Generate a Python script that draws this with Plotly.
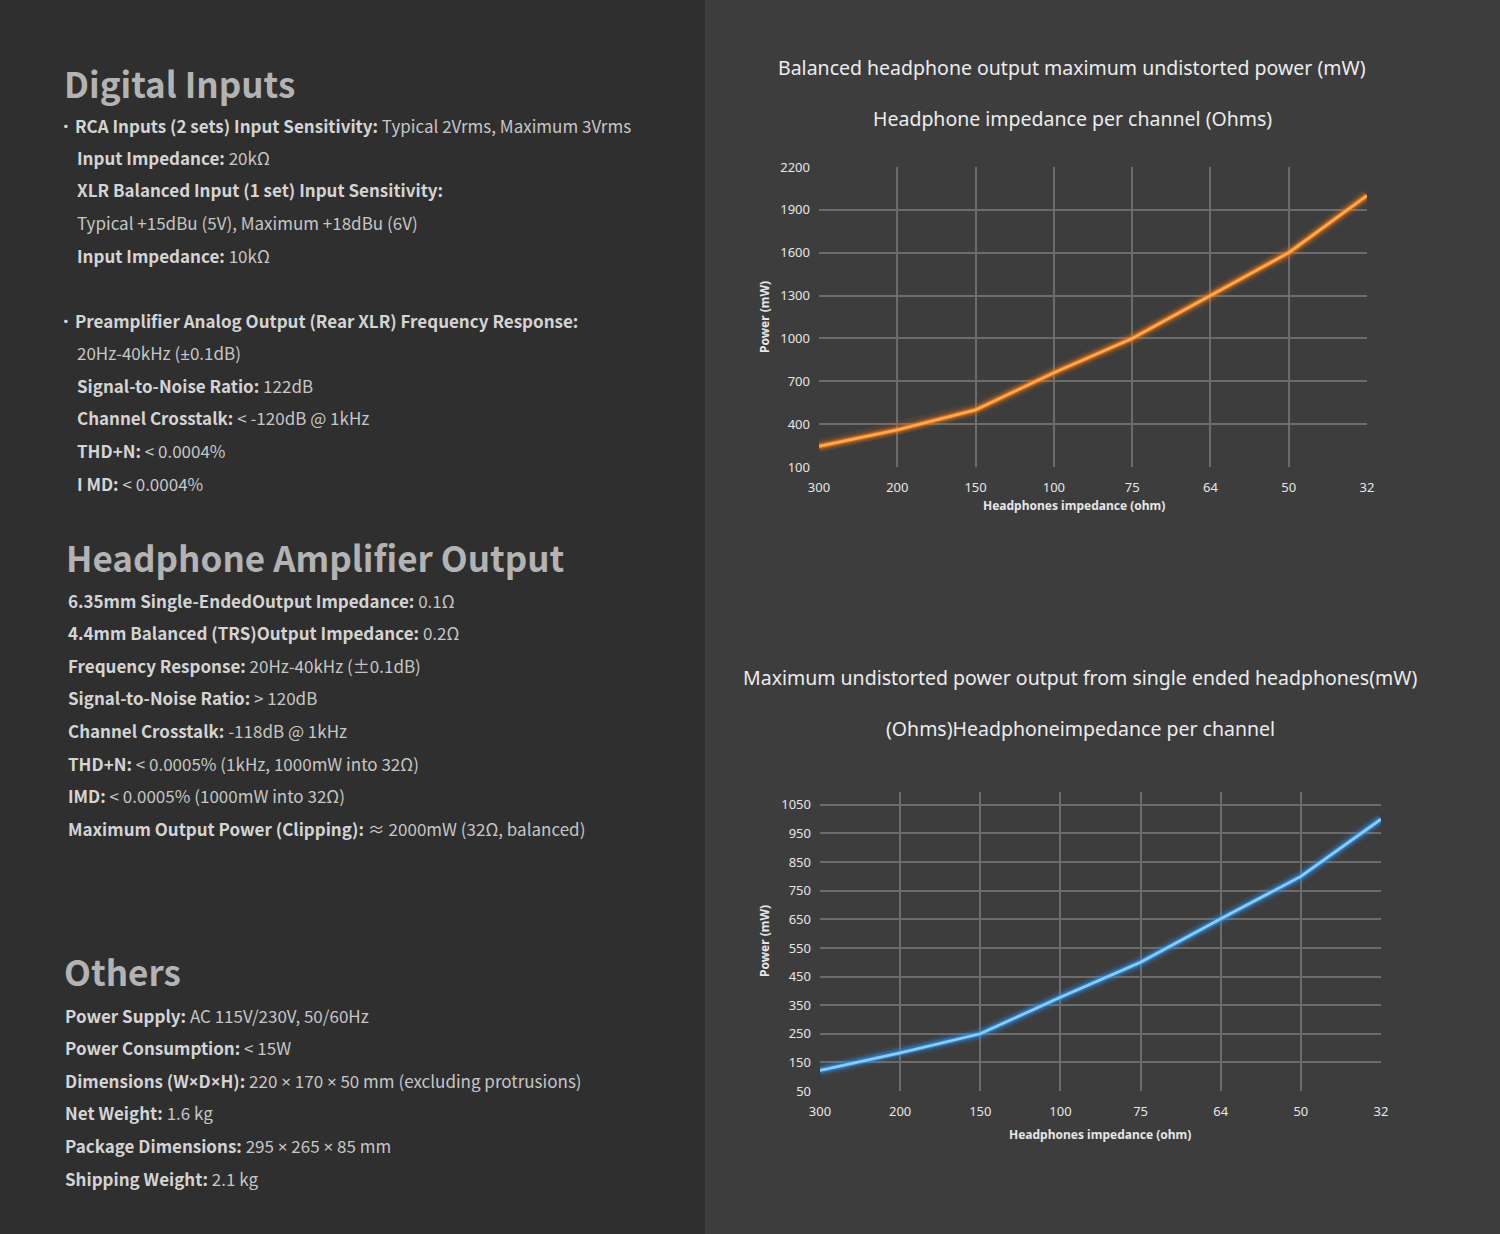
import plotly.graph_objects as go

W, H = 1500, 1234

# chart data
impedance = ["300", "200", "150", "100", "75", "64", "50", "32"]
balanced_mw = [245, 360, 500, 760, 1000, 1300, 1600, 2000]
single_mw = [122, 183, 250, 378, 500, 652, 800, 1000]

balanced_titles = ["Balanced headphone output maximum undistorted power (mW)",
                   "Headphone impedance per channel (Ohms)"]
single_titles = ["Maximum undistorted power output from single ended headphones(mW)",
                 "(Ohms)Headphoneimpedance per channel"]
y_title = "Power (mW)"
x_title = "Headphones impedance (ohm)"

# spec sheet text
digital_heading = "Digital Inputs"
digital_a = [
    ("·", "RCA Inputs (2 sets) Input Sensitivity:", " Typical 2Vrms, Maximum 3Vrms"),
    ("", "Input Impedance:", " 20kΩ"),
    ("", "XLR Balanced Input (1 set) Input Sensitivity:", ""),
    ("", "", "Typical +15dBu (5V), Maximum +18dBu (6V)"),
    ("", "Input Impedance:", " 10kΩ"),
]
digital_b = [
    ("·", "Preamplifier Analog Output (Rear XLR) Frequency Response:", ""),
    ("", "", "20Hz-40kHz (±0.1dB)"),
    ("", "Signal-to-Noise Ratio:", " 122dB"),
    ("", "Channel Crosstalk:", " < -120dB @ 1kHz"),
    ("", "THD+N:", " < 0.0004%"),
    ("", "I MD:", " < 0.0004%"),
]
amp_heading = "Headphone Amplifier Output"
amp_lines = [
    ("6.35mm Single-EndedOutput Impedance:", " 0.1Ω"),
    ("4.4mm Balanced (TRS)Output Impedance:", " 0.2Ω"),
    ("Frequency Response:", " 20Hz-40kHz (±0.1dB)"),
    ("Signal-to-Noise Ratio:", " > 120dB"),
    ("Channel Crosstalk:", " -118dB @ 1kHz"),
    ("THD+N:", " < 0.0005% (1kHz, 1000mW into 32Ω)"),
    ("IMD:", " < 0.0005% (1000mW into 32Ω)"),
    ("Maximum Output Power (Clipping):", " ≈ 2000mW (32Ω, balanced)"),
]
others_heading = "Others"
others_lines = [
    ("Power Supply:", " AC 115V/230V, 50/60Hz"),
    ("Power Consumption:", " < 15W"),
    ("Dimensions (W×D×H):", " 220 × 170 × 50 mm (excluding protrusions)"),
    ("Net Weight:", " 1.6 kg"),
    ("Package Dimensions:", " 295 × 265 × 85 mm"),
    ("Shipping Weight:", " 2.1 kg"),
]

LEFT_BG = "#2f2f2f"
RIGHT_BG = "#3d3d3d"
GRID = "#6c6c6c"
TXT_FONT = "Noto Sans CJK SC"
CHART_FONT = "Noto Sans"
NARROW = "<span style='font-family:Noto Sans'>{}</span>"


def px(x):
    return x / W


def py(y):
    return 1 - y / H


fig = go.Figure()


def add_glow_line(xref, yref, yvals, core, glow_rgb):
    # wide translucent strokes under the main line to fake the glow
    for width, a in [(14, 0.09), (10, 0.17), (7, 0.3), (4.8, 0.5)]:
        fig.add_trace(go.Scatter(x=impedance, y=yvals, mode="lines", xaxis=xref, yaxis=yref,
                                 line=dict(color=f"rgba({glow_rgb},{a})", width=width),
                                 hoverinfo="skip", showlegend=False))
    fig.add_trace(go.Scatter(x=impedance, y=yvals, mode="lines", xaxis=xref, yaxis=yref,
                             line=dict(color=core, width=2.8), showlegend=False))


add_glow_line("x", "y", balanced_mw, "#ffa84f", "240,120,20")
add_glow_line("x2", "y2", single_mw, "#86cdf8", "50,145,235")

axis_common = dict(type="category", range=[0, 7], showgrid=True, gridcolor=GRID, gridwidth=1.5,
                   zeroline=False, ticks="", ticklabelstandoff=11, automargin=False,
                   tickfont=dict(family=CHART_FONT, size=13, color="#e6e6e6"), fixedrange=True)
yaxis_common = dict(showgrid=True, gridcolor=GRID, gridwidth=1.5, zeroline=False, ticks="",
                    ticklabelstandoff=8, automargin=False,
                    tickfont=dict(family=CHART_FONT, size=13, color="#e6e6e6"), fixedrange=True)

fig.update_layout(
    width=W, height=H,
    margin=dict(l=0, r=0, t=0, b=0, pad=0, autoexpand=False),
    paper_bgcolor=LEFT_BG,
    plot_bgcolor="rgba(0,0,0,0)",
    showlegend=False,
    xaxis=dict(axis_common, domain=[px(819), px(1367)], anchor="y", categoryorder="array",
               categoryarray=impedance),
    yaxis=dict(yaxis_common, domain=[py(467), py(167)], anchor="x", range=[100, 2200],
               tickvals=[100, 400, 700, 1000, 1300, 1600, 1900, 2200]),
    xaxis2=dict(axis_common, domain=[px(820), px(1381)], anchor="y2", categoryorder="array",
                categoryarray=impedance),
    yaxis2=dict(yaxis_common, domain=[py(1091), py(792)], anchor="x2", range=[50, 1095],
                tickvals=[50, 150, 250, 350, 450, 550, 650, 750, 850, 950, 1050]),
    shapes=[dict(type="rect", xref="paper", yref="paper", x0=px(705), x1=1, y0=0, y1=1,
                 fillcolor=RIGHT_BG, line=dict(width=0), layer="below")],
)

ann = []


def note(x, y, text, size, color, xanchor="left", family=TXT_FONT, angle=0):
    ann.append(dict(x=px(x), y=py(y), xref="paper", yref="paper", text=text, showarrow=False,
                    xanchor=xanchor, yanchor="middle", textangle=angle, borderpad=0,
                    font=dict(family=family, size=size, color=color)))


# chart titles and axis titles
note(1072, 68, balanced_titles[0], 19.5, "#ececec", "center", CHART_FONT)
note(1072, 119, balanced_titles[1], 19.5, "#ececec", "center", CHART_FONT)
note(1080, 677, single_titles[0], 19.5, "#ececec", "center", CHART_FONT)
note(1080, 728, single_titles[1], 19.5, "#ececec", "center", CHART_FONT)
note(764, 317, "<b>" + y_title + "</b>", 12, "#e6e6e6", "center", CHART_FONT, -90)
note(1074, 505, "<b>" + x_title + "</b>", 12, "#e6e6e6", "center", CHART_FONT)
note(764, 941, "<b>" + y_title + "</b>", 12, "#e6e6e6", "center", CHART_FONT, -90)
note(1100, 1134, "<b>" + x_title + "</b>", 12, "#e6e6e6", "center", CHART_FONT)


def spec_line(x, y, label, value, bullet="", narrow_pm=False):
    if bullet:
        note(70, y, "<b>" + bullet + "</b>", 20, "#d2d2d2", "right", CHART_FONT)
    label = label.replace("×", NARROW.format("×"))
    value = value.replace("×", NARROW.format("×"))
    if narrow_pm:
        value = value.replace("±", NARROW.format("±"))
    txt = ""
    if label:
        txt += "<b>" + label + "</b>"
    if value:
        txt += "<span style='color:#c6c6c6'>" + value + "</span>"
    note(x, y, txt, 17, "#d4d4d4")


HEAD_COLOR = "#b3b3b3"
note(63, 83, "<b>" + digital_heading + "</b>", 35, HEAD_COLOR)
for i, (bul, lab, val) in enumerate(digital_a):
    spec_line(74 if bul else 76, 125 + i * 32.5, lab, val, bul)
for i, (bul, lab, val) in enumerate(digital_b):
    spec_line(74 if bul else 76, 320 + i * 32.6, lab, val, bul, narrow_pm=True)

note(65, 556, "<b>" + amp_heading + "</b>", 35, HEAD_COLOR)
for i, (lab, val) in enumerate(amp_lines):
    spec_line(67, 600 + i * 32.6, lab, val)

note(63, 970, "<b>" + others_heading + "</b>", 35, HEAD_COLOR)
for i, (lab, val) in enumerate(others_lines):
    spec_line(64, 1015 + i * 32.6, lab, val)

fig.update_layout(annotations=ann)

fig.write_html("out.html", config={"displayModeBar": False},
               post_script="document.body.style.margin='0';")
